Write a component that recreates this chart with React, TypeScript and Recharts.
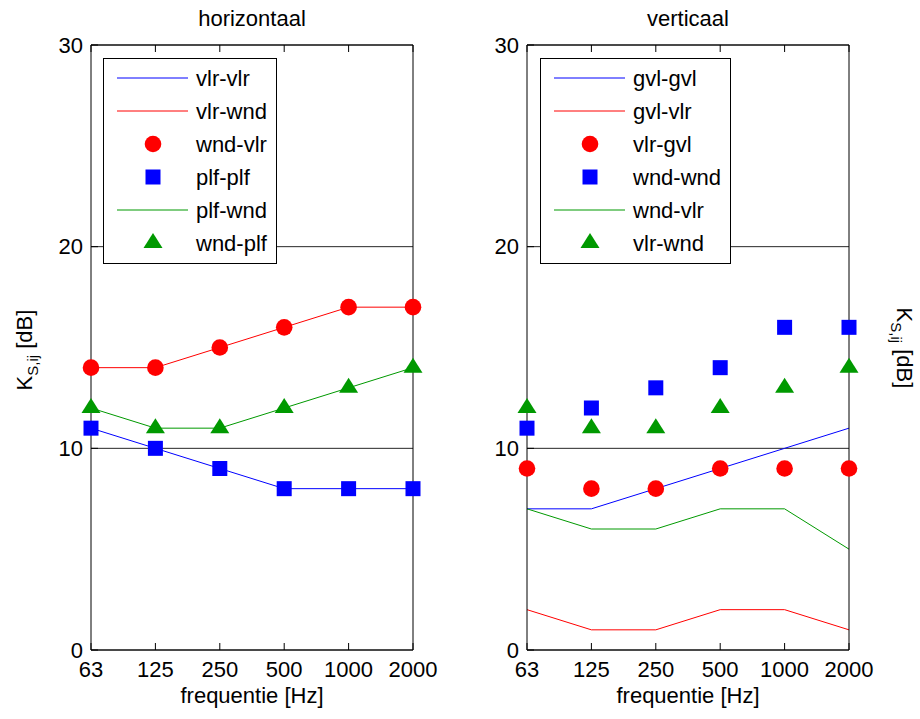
import React from 'react';
import { LineChart, Line, XAxis, YAxis, CartesianGrid, Legend } from 'recharts';

const frequencies = ['63', '125', '250', '500', '1000', '2000'];
const yTicks = [0, 10, 20, 30];

// horizontaal
const hVlrVlr = [11, 10, 9, 8, 8, 8];
const hVlrWnd = [14, 14, 15, 16, 17, 17];
const hWndVlr = [14, 14, 15, 16, 17, 17];
const hPlfPlf = [11, 10, 9, 8, 8, 8];
const hPlfWnd = [12, 11, 11, 12, 13, 14];
const hWndPlf = [12, 11, 11, 12, 13, 14];

// verticaal
const vGvlGvl = [7, 7, 8, 9, 10, 11];
const vGvlVlr = [2, 1, 1, 2, 2, 1];
const vVlrGvl = [9, 8, 8, 9, 9, 9];
const vWndWnd = [11, 12, 13, 14, 16, 16];
const vWndVlr = [7, 6, 6, 7, 7, 5];
const vVlrWnd = [12, 11, 11, 12, 13, 14];

const BLUE = '#0000ff';
const RED = '#ff0000';
const GREEN = '#009900';
const FONT = '"Liberation Sans", Arial, Helvetica, sans-serif';

type Kind = 'line' | 'circle' | 'square' | 'triangle';
type Series = { key: string; name: string; values: number[]; color: string; kind: Kind };

const horizSeries: Series[] = [
  { key: 's1', name: 'vlr-vlr', values: hVlrVlr, color: BLUE, kind: 'line' },
  { key: 's2', name: 'vlr-wnd', values: hVlrWnd, color: RED, kind: 'line' },
  { key: 's3', name: 'wnd-vlr', values: hWndVlr, color: RED, kind: 'circle' },
  { key: 's4', name: 'plf-plf', values: hPlfPlf, color: BLUE, kind: 'square' },
  { key: 's5', name: 'plf-wnd', values: hPlfWnd, color: GREEN, kind: 'line' },
  { key: 's6', name: 'wnd-plf', values: hWndPlf, color: GREEN, kind: 'triangle' },
];

const vertSeries: Series[] = [
  { key: 's1', name: 'gvl-gvl', values: vGvlGvl, color: BLUE, kind: 'line' },
  { key: 's2', name: 'gvl-vlr', values: vGvlVlr, color: RED, kind: 'line' },
  { key: 's3', name: 'vlr-gvl', values: vVlrGvl, color: RED, kind: 'circle' },
  { key: 's4', name: 'wnd-wnd', values: vWndWnd, color: BLUE, kind: 'square' },
  { key: 's5', name: 'wnd-vlr', values: vWndVlr, color: GREEN, kind: 'line' },
  { key: 's6', name: 'vlr-wnd', values: vVlrWnd, color: GREEN, kind: 'triangle' },
];

function marker(kind: Kind, color: string, cx: number, cy: number, key?: any) {
  if (kind === 'circle') return <circle key={key} cx={cx} cy={cy} r={8.3} fill={color} />;
  if (kind === 'square') return <rect key={key} x={cx - 7.5} y={cy - 7.5} width={15} height={15} fill={color} />;
  if (kind === 'triangle')
    return (
      <polygon
        key={key}
        points={`${cx},${cy - 10} ${cx - 9.5},${cy + 5} ${cx + 9.5},${cy + 5}`}
        fill={color}
      />
    );
  return <g key={key} />;
}

const makeDot = (kind: Kind, color: string) => (props: any) => {
  const { cx, cy, index } = props;
  if (cx == null || cy == null) return <g key={`d${index}`} />;
  return marker(kind, color, cx, cy, `d${index}`);
};

const makeLegend = (series: Series[], width: number) => () => (
  <svg width={width} height={206} style={{ display: 'block', fontFamily: FONT }}>
    <rect x={0.5} y={0.5} width={width - 1} height={205} fill="#fff" stroke="#000" strokeWidth={1} />
    {series.map((s, i) => {
      const cy = 20 + 33 * i;
      return (
        <g key={s.key}>
          {s.kind === 'line' ? (
            <line x1={14} x2={85} y1={cy} y2={cy} stroke={s.color} strokeWidth={1} />
          ) : (
            marker(s.kind, s.color, 50, cy)
          )}
          <text x={93} y={cy + 8} fontSize={22} fill="#000">
            {s.name}
          </text>
        </g>
      );
    })}
  </svg>
);

type PanelProps = {
  pageLeft: number;
  plotLeft: number;
  plotRight: number;
  title: string;
  series: Series[];
  legendLeft: number;
  legendWidth: number;
  labelSide: 'left' | 'right';
};

function YLabel({ x, y, rot }: { x: number; y: number; rot: number }) {
  return (
    <text transform={`translate(${x},${y}) rotate(${rot})`} textAnchor="middle" fontSize={22} fill="#000">
      <tspan>K</tspan>
      <tspan fontSize={15} dy={6}>S,ij</tspan>
      <tspan dy={-6}> [dB]</tspan>
    </text>
  );
}

const emptyTick = () => <g />;

function Panel({ pageLeft, plotLeft, plotRight, title, series, legendLeft, legendWidth, labelSide }: PanelProps) {
  const W = 460;
  const H = 719;
  const yAxisW = 40;
  const xAxisH = 40;
  const data = frequencies.map((f, i) => {
    const row: any = { f };
    series.forEach((s) => {
      row[s.key] = s.values[i];
    });
    return row;
  });
  const margin = {
    top: 44,
    left: plotLeft - yAxisW,
    right: W - plotRight - 1,
    bottom: H - 650 - xAxisH,
  };
  return (
    <div style={{ position: 'absolute', left: pageLeft, top: 0, width: W, height: H }}>
      <LineChart width={W} height={H} data={data} margin={margin}>
        <CartesianGrid vertical={false} stroke="#262626" strokeWidth={1} />
        <XAxis
          dataKey="f"
          interval={0}
          height={xAxisH}
          tickSize={-7}
          tickMargin={18}
          axisLine={{ stroke: '#000' }}
          tickLine={{ stroke: '#000' }}
          tick={{ fontSize: 22, fill: '#000' }}
          label={(p: any) => {
            const vb = p.viewBox;
            return (
              <text x={vb.x + vb.width / 2} y={703} textAnchor="middle" fontSize={22} fill="#000">
                frequentie [Hz]
              </text>
            );
          }}
        />
        <XAxis
          xAxisId="top"
          dataKey="f"
          orientation="top"
          interval={0}
          height={1}
          tickSize={-7}
          tickMargin={0}
          tick={emptyTick}
          axisLine={{ stroke: '#000' }}
          tickLine={{ stroke: '#000' }}
          label={(p: any) => {
            const vb = p.viewBox;
            return (
              <text x={vb.x + vb.width / 2} y={26} textAnchor="middle" fontSize={22} fill="#000">
                {title}
              </text>
            );
          }}
        />
        <YAxis
          domain={[0, 30]}
          ticks={yTicks}
          interval={0}
          width={yAxisW}
          tickSize={-7}
          tickMargin={15}
          axisLine={{ stroke: '#000' }}
          tickLine={{ stroke: '#000' }}
          tick={{ fontSize: 22, fill: '#000' }}
          label={
            labelSide === 'left'
              ? (p: any) => <YLabel x={32} y={350} rot={-90} />
              : undefined
          }
        />
        <YAxis
          yAxisId="right"
          orientation="right"
          domain={[0, 30]}
          ticks={yTicks}
          interval={0}
          width={1}
          tickSize={-7}
          tickMargin={0}
          tick={emptyTick}
          tickLine={{ stroke: '#000' }}
          axisLine={{ stroke: '#000' }}
          label={
            labelSide === 'right'
              ? (p: any) => <YLabel x={437} y={348} rot={90} />
              : undefined
          }
        />
        <Legend
          layout="vertical"
          align="center"
          verticalAlign="middle"
          content={makeLegend(series, legendWidth)}
          wrapperStyle={{ position: 'absolute', left: legendLeft, top: 58, width: legendWidth, height: 206 }}
        />
        {series.map((s) =>
          s.kind === 'line' ? (
            <Line
              key={s.key}
              dataKey={s.key}
              name={s.name}
              type="linear"
              stroke={s.color}
              strokeWidth={1}
              dot={false}
              activeDot={false}
              isAnimationActive={false}
            />
          ) : (
            <Line
              key={s.key}
              dataKey={s.key}
              name={s.name}
              type="linear"
              stroke="none"
              dot={makeDot(s.kind, s.color)}
              activeDot={false}
              isAnimationActive={false}
            />
          )
        )}
      </LineChart>
    </div>
  );
}

export default function App() {
  return (
    <div
      style={{
        position: 'absolute',
        left: 0,
        top: 0,
        width: 920,
        height: 719,
        background: '#fff',
        fontFamily: FONT,
      }}
    >
      <Panel
        pageLeft={0}
        plotLeft={91}
        plotRight={413}
        title="horizontaal"
        series={horizSeries}
        legendLeft={103}
        legendWidth={174}
        labelSide="left"
      />
      <Panel
        pageLeft={460}
        plotLeft={67}
        plotRight={389}
        title="verticaal"
        series={vertSeries}
        legendLeft={80}
        legendWidth={191}
        labelSide="right"
      />
    </div>
  );
}
